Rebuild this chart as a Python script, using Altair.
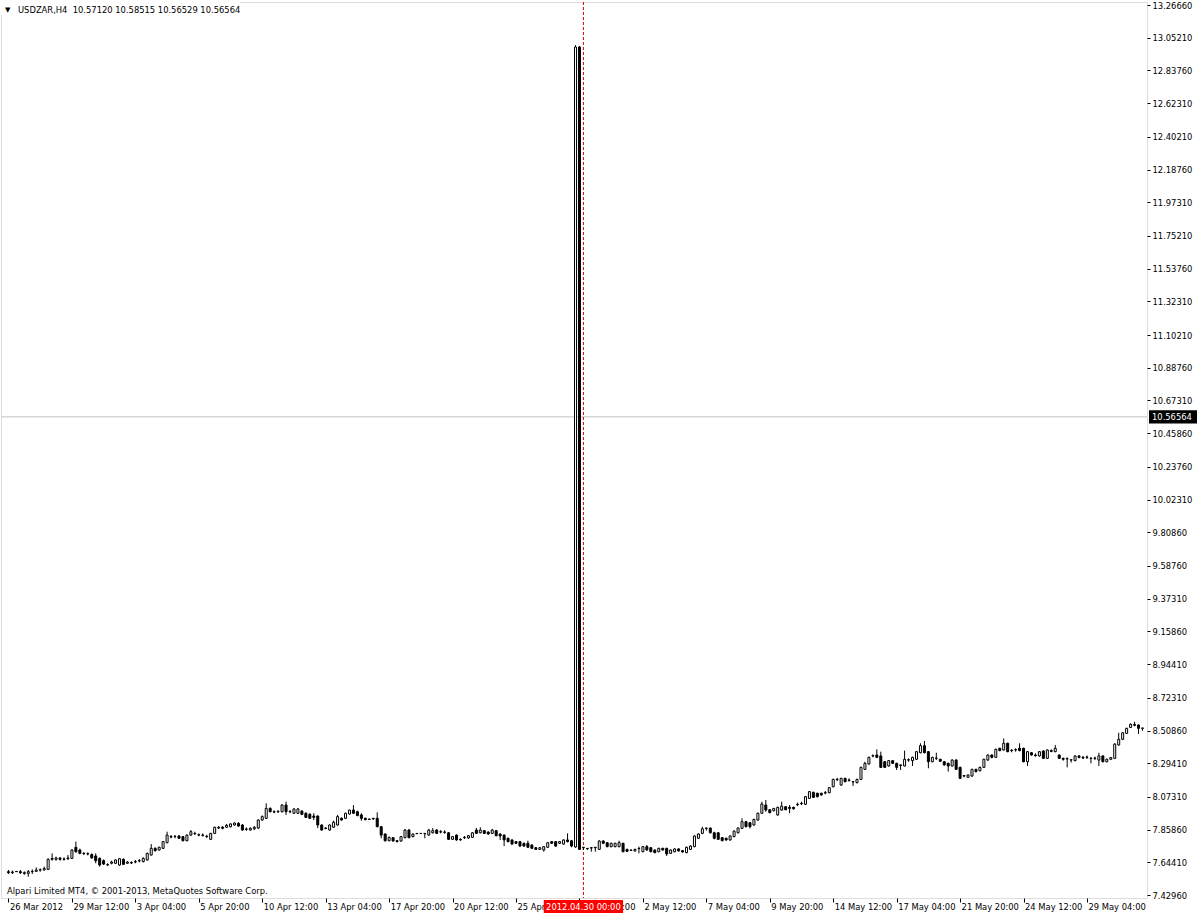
import json
import altair as alt
import pandas as pd

# ---------------- data ----------------
SYMBOL = "USDZAR,H4"
LAST_BAR = ["10.57120", "10.58515", "10.56529", "10.56564"]
BID = 10.56564
CROSS_BAR = 145
CROSS_LABEL = "2012.04.30 00:00"
COPYRIGHT = "Alpari Limited MT4, \u00a9 2001-2013, MetaQuotes Software Corp."

PRICE_TICKS = [13.26660, 13.05210, 12.83760, 12.62310, 12.40210, 12.18760, 11.97310,
               11.75210, 11.53760, 11.32310, 11.10210, 10.88760, 10.67310, 10.45860,
               10.23760, 10.02310, 9.80860, 9.58760, 9.37310, 9.15860, 8.94410,
               8.72310, 8.50860, 8.29410, 8.07310, 7.85860, 7.64410, 7.42960]

TIME_TICKS = [0, 16, 32, 48, 64, 80, 96, 112, 128, 144, 160, 176, 192, 208, 224, 240, 256, 272]
TIME_LABELS = ["26 Mar 2012", "29 Mar 12:00", "3 Apr 04:00", "5 Apr 20:00", "10 Apr 12:00",
               "13 Apr 04:00", "17 Apr 20:00", "20 Apr 12:00", "25 Apr 04:00", "27 Apr 20:00",
               "2 May 12:00", "7 May 04:00", "9 May 20:00", "14 May 12:00", "17 May 04:00",
               "21 May 20:00", "24 May 12:00", "29 May 04:00"]

OPEN = [7.583, 7.576, 7.585, 7.583, 7.576, 7.572, 7.583, 7.585, 7.594, 7.594,
        7.598, 7.670, 7.664, 7.673, 7.664, 7.668, 7.670, 7.743, 7.725, 7.703,
        7.701, 7.695, 7.686, 7.670, 7.655, 7.629, 7.638, 7.638, 7.627, 7.664,
        7.638, 7.642, 7.646, 7.653, 7.649, 7.660, 7.692, 7.736, 7.725, 7.736,
        7.773, 7.813, 7.813, 7.817, 7.813, 7.786, 7.823, 7.834, 7.825, 7.823,
        7.815, 7.795, 7.834, 7.869, 7.874, 7.874, 7.878, 7.889, 7.900, 7.889,
        7.863, 7.856, 7.864, 7.869, 7.922, 7.933, 7.998, 7.976, 7.976, 7.976,
        8.020, 7.976, 7.966, 7.966, 7.980, 7.966, 7.959, 7.948, 7.948, 7.889,
        7.869, 7.856, 7.874, 7.889, 7.933, 7.933, 7.961, 7.987, 7.976, 7.955,
        7.933, 7.928, 7.933, 7.933, 7.878, 7.830, 7.786, 7.806, 7.786, 7.784,
        7.806, 7.856, 7.813, 7.834, 7.834, 7.834, 7.823, 7.838, 7.856, 7.845,
        7.843, 7.838, 7.795, 7.823, 7.795, 7.808, 7.804, 7.808, 7.856, 7.838,
        7.852, 7.843, 7.834, 7.852, 7.830, 7.823, 7.802, 7.791, 7.780, 7.780,
        7.769, 7.769, 7.758, 7.740, 7.729, 7.725, 7.743, 7.780, 7.780, 7.769,
        7.764, 7.791, 7.786, 7.745, 12.991, 7.743, 7.736, 7.740, 7.743, 7.729,
        7.784, 7.773, 7.747, 7.747, 7.747, 7.769, 7.729, 7.725, 7.719, 7.736,
        7.714, 7.747, 7.740, 7.725, 7.714, 7.736, 7.736, 7.703, 7.714, 7.732,
        7.721, 7.708, 7.729, 7.747, 7.802, 7.834, 7.869, 7.869, 7.838, 7.838,
        7.806, 7.802, 7.791, 7.813, 7.838, 7.867, 7.911, 7.904, 7.889, 7.922,
        7.966, 8.020, 7.989, 7.983, 7.955, 7.987, 8.009, 8.005, 8.005, 8.025,
        8.031, 8.025, 8.064, 8.103, 8.097, 8.097, 8.101, 8.101, 8.140, 8.188,
        8.151, 8.195, 8.184, 8.173, 8.167, 8.188, 8.254, 8.289, 8.342, 8.348,
        8.342, 8.304, 8.276, 8.311, 8.293, 8.283, 8.276, 8.315, 8.311, 8.320,
        8.363, 8.409, 8.370, 8.304, 8.326, 8.320, 8.304, 8.293, 8.276, 8.315,
        8.267, 8.213, 8.202, 8.210, 8.254, 8.245, 8.267, 8.315, 8.348, 8.333,
        8.392, 8.381, 8.425, 8.377, 8.381, 8.392, 8.392, 8.304, 8.363, 8.348,
        8.342, 8.374, 8.326, 8.377, 8.370, 8.348, 8.326, 8.322, 8.315, 8.311,
        8.342, 8.333, 8.333, 8.326, 8.326, 8.315, 8.342, 8.304, 8.320, 8.326,
        8.414, 8.451, 8.490, 8.529, 8.549, 8.545, 8.523]

HIGH = [7.594, 7.590, 7.587, 7.594, 7.585, 7.594, 7.598, 7.611, 7.605, 7.616,
        7.670, 7.703, 7.681, 7.677, 7.677, 7.692, 7.729, 7.780, 7.734, 7.712,
        7.710, 7.703, 7.703, 7.677, 7.664, 7.638, 7.655, 7.664, 7.673, 7.670,
        7.653, 7.651, 7.660, 7.666, 7.677, 7.708, 7.764, 7.743, 7.747, 7.784,
        7.845, 7.823, 7.823, 7.823, 7.817, 7.827, 7.856, 7.845, 7.834, 7.834,
        7.825, 7.838, 7.878, 7.882, 7.882, 7.896, 7.900, 7.907, 7.907, 7.896,
        7.873, 7.874, 7.882, 7.926, 7.952, 8.031, 8.005, 7.985, 7.987, 8.025,
        8.042, 7.987, 7.998, 8.000, 7.987, 7.972, 7.966, 7.966, 7.952, 7.893,
        7.874, 7.893, 7.917, 7.955, 7.939, 7.970, 7.989, 8.020, 7.983, 7.966,
        7.937, 7.930, 7.935, 7.972, 7.882, 7.834, 7.813, 7.810, 7.791, 7.817,
        7.863, 7.863, 7.834, 7.836, 7.836, 7.836, 7.863, 7.869, 7.863, 7.856,
        7.854, 7.843, 7.817, 7.827, 7.802, 7.817, 7.823, 7.843, 7.869, 7.874,
        7.856, 7.847, 7.863, 7.856, 7.834, 7.827, 7.806, 7.795, 7.784, 7.784,
        7.773, 7.786, 7.762, 7.745, 7.745, 7.751, 7.777, 7.784, 7.784, 7.784,
        7.795, 7.834, 7.791, 13.004, 12.998, 7.745, 7.738, 7.743, 7.745, 7.789,
        7.789, 7.777, 7.773, 7.773, 7.786, 7.773, 7.734, 7.727, 7.734, 7.747,
        7.751, 7.758, 7.745, 7.729, 7.740, 7.740, 7.740, 7.729, 7.736, 7.736,
        7.725, 7.747, 7.756, 7.821, 7.834, 7.878, 7.871, 7.873, 7.845, 7.843,
        7.810, 7.806, 7.821, 7.854, 7.873, 7.933, 7.916, 7.909, 7.930, 7.970,
        8.042, 8.053, 7.994, 8.000, 8.009, 8.042, 8.013, 8.020, 8.009, 8.036,
        8.042, 8.079, 8.112, 8.108, 8.101, 8.101, 8.112, 8.138, 8.193, 8.199,
        8.199, 8.199, 8.195, 8.175, 8.193, 8.272, 8.304, 8.337, 8.352, 8.385,
        8.370, 8.309, 8.315, 8.315, 8.298, 8.285, 8.377, 8.326, 8.337, 8.374,
        8.425, 8.440, 8.374, 8.337, 8.363, 8.324, 8.309, 8.298, 8.320, 8.320,
        8.272, 8.217, 8.221, 8.258, 8.258, 8.272, 8.324, 8.352, 8.352, 8.390,
        8.396, 8.457, 8.429, 8.387, 8.392, 8.425, 8.396, 8.374, 8.368, 8.359,
        8.374, 8.379, 8.385, 8.385, 8.414, 8.352, 8.331, 8.333, 8.320, 8.346,
        8.346, 8.342, 8.344, 8.331, 8.337, 8.363, 8.346, 8.324, 8.335, 8.425,
        8.494, 8.499, 8.527, 8.556, 8.566, 8.549, 8.527]

LOW = [7.568, 7.568, 7.581, 7.568, 7.563, 7.550, 7.568, 7.581, 7.583, 7.590,
       7.594, 7.655, 7.655, 7.655, 7.655, 7.660, 7.666, 7.708, 7.697, 7.692,
       7.690, 7.668, 7.638, 7.616, 7.627, 7.620, 7.631, 7.633, 7.622, 7.627,
       7.633, 7.633, 7.638, 7.644, 7.644, 7.655, 7.688, 7.714, 7.721, 7.732,
       7.769, 7.802, 7.802, 7.797, 7.782, 7.782, 7.819, 7.823, 7.815, 7.813,
       7.804, 7.791, 7.830, 7.863, 7.861, 7.871, 7.873, 7.885, 7.878, 7.852,
       7.851, 7.852, 7.856, 7.863, 7.917, 7.928, 7.972, 7.966, 7.968, 7.972,
       7.955, 7.966, 7.961, 7.961, 7.955, 7.935, 7.928, 7.922, 7.869, 7.852,
       7.861, 7.852, 7.871, 7.885, 7.917, 7.928, 7.957, 7.961, 7.946, 7.917,
       7.920, 7.924, 7.922, 7.874, 7.802, 7.780, 7.782, 7.780, 7.775, 7.780,
       7.802, 7.802, 7.808, 7.830, 7.830, 7.802, 7.819, 7.834, 7.830, 7.834,
       7.832, 7.791, 7.791, 7.786, 7.786, 7.797, 7.799, 7.804, 7.830, 7.834,
       7.830, 7.825, 7.830, 7.815, 7.791, 7.751, 7.775, 7.760, 7.764, 7.747,
       7.747, 7.738, 7.732, 7.725, 7.725, 7.714, 7.738, 7.764, 7.747, 7.764,
       7.760, 7.775, 7.743, 7.740, 7.725, 7.725, 7.725, 7.714, 7.714, 7.725,
       7.764, 7.743, 7.743, 7.743, 7.743, 7.710, 7.712, 7.721, 7.714, 7.703,
       7.710, 7.721, 7.710, 7.703, 7.710, 7.721, 7.686, 7.699, 7.710, 7.714,
       7.708, 7.703, 7.725, 7.743, 7.797, 7.830, 7.852, 7.834, 7.795, 7.791,
       7.782, 7.786, 7.786, 7.808, 7.834, 7.863, 7.874, 7.867, 7.885, 7.917,
       7.961, 7.976, 7.966, 7.978, 7.950, 7.983, 7.987, 7.966, 7.989, 8.013,
       8.020, 8.020, 8.060, 8.066, 8.070, 8.081, 8.090, 8.097, 8.136, 8.178,
       8.147, 8.169, 8.173, 8.145, 8.162, 8.184, 8.250, 8.285, 8.333, 8.328,
       8.263, 8.263, 8.272, 8.289, 8.250, 8.250, 8.272, 8.304, 8.276, 8.315,
       8.359, 8.359, 8.261, 8.300, 8.315, 8.302, 8.278, 8.239, 8.272, 8.250,
       8.191, 8.202, 8.197, 8.206, 8.234, 8.241, 8.263, 8.311, 8.326, 8.328,
       8.372, 8.377, 8.366, 8.366, 8.370, 8.372, 8.300, 8.276, 8.344, 8.337,
       8.337, 8.322, 8.322, 8.366, 8.366, 8.322, 8.311, 8.267, 8.298, 8.307,
       8.326, 8.322, 8.322, 8.293, 8.315, 8.276, 8.300, 8.300, 8.315, 8.322,
       8.409, 8.446, 8.486, 8.525, 8.536, 8.486, 8.507]

CLOSE = [7.576, 7.581, 7.583, 7.576, 7.572, 7.583, 7.585, 7.594, 7.595, 7.603,
         7.664, 7.664, 7.673, 7.664, 7.666, 7.673, 7.725, 7.714, 7.703, 7.701,
         7.699, 7.673, 7.655, 7.627, 7.633, 7.627, 7.646, 7.660, 7.668, 7.631,
         7.646, 7.640, 7.649, 7.655, 7.670, 7.703, 7.736, 7.721, 7.743, 7.780,
         7.823, 7.810, 7.815, 7.802, 7.786, 7.823, 7.845, 7.832, 7.823, 7.821,
         7.813, 7.834, 7.874, 7.874, 7.867, 7.887, 7.896, 7.902, 7.882, 7.856,
         7.861, 7.867, 7.874, 7.922, 7.944, 7.998, 7.976, 7.974, 7.978, 8.020,
         7.976, 7.978, 7.994, 7.994, 7.959, 7.939, 7.933, 7.939, 7.889, 7.856,
         7.867, 7.889, 7.907, 7.944, 7.922, 7.966, 7.987, 7.966, 7.951, 7.933,
         7.924, 7.926, 7.930, 7.878, 7.823, 7.786, 7.808, 7.784, 7.780, 7.813,
         7.856, 7.806, 7.830, 7.832, 7.833, 7.832, 7.856, 7.852, 7.834, 7.843,
         7.841, 7.795, 7.813, 7.791, 7.791, 7.806, 7.819, 7.838, 7.834, 7.856,
         7.834, 7.830, 7.856, 7.819, 7.817, 7.791, 7.780, 7.764, 7.769, 7.751,
         7.751, 7.743, 7.736, 7.729, 7.740, 7.747, 7.773, 7.769, 7.751, 7.780,
         7.791, 7.780, 7.751, 12.991, 7.729, 7.740, 7.734, 7.738, 7.740, 7.784,
         7.769, 7.747, 7.769, 7.769, 7.773, 7.714, 7.716, 7.723, 7.729, 7.734,
         7.747, 7.725, 7.714, 7.708, 7.736, 7.725, 7.699, 7.725, 7.732, 7.719,
         7.712, 7.743, 7.751, 7.817, 7.830, 7.864, 7.867, 7.838, 7.802, 7.795,
         7.786, 7.791, 7.817, 7.849, 7.869, 7.911, 7.878, 7.878, 7.926, 7.966,
         8.027, 7.987, 7.970, 7.998, 8.005, 8.013, 7.989, 7.998, 7.996, 8.022,
         8.029, 8.075, 8.108, 8.070, 8.075, 8.086, 8.099, 8.134, 8.188, 8.186,
         8.195, 8.173, 8.182, 8.171, 8.188, 8.267, 8.293, 8.333, 8.344, 8.333,
         8.267, 8.267, 8.311, 8.293, 8.267, 8.280, 8.320, 8.317, 8.333, 8.370,
         8.409, 8.363, 8.304, 8.333, 8.328, 8.307, 8.283, 8.276, 8.315, 8.254,
         8.195, 8.210, 8.217, 8.254, 8.239, 8.267, 8.320, 8.348, 8.333, 8.385,
         8.377, 8.425, 8.370, 8.379, 8.383, 8.377, 8.304, 8.370, 8.348, 8.344,
         8.370, 8.326, 8.381, 8.372, 8.392, 8.326, 8.320, 8.324, 8.317, 8.342,
         8.333, 8.328, 8.335, 8.328, 8.328, 8.342, 8.304, 8.320, 8.331, 8.420,
         8.451, 8.494, 8.523, 8.549, 8.543, 8.523, 8.525]

# ---------------- chart ----------------
FONT = "DejaVu Sans Condensed, Liberation Sans, sans-serif"
FS = 9.3

df = pd.DataFrame({"i": list(range(len(OPEN))), "open": OPEN, "high": HIGH,
                   "low": LOW, "close": CLOSE})

xs = alt.Scale(domain=[-0.625, 285.875], nice=False, zero=False)
ys = alt.Scale(domain=[7.4103, 13.2863], nice=False, zero=False)

label_expr = "%s[indexof(%s, datum.value)]" % (json.dumps(TIME_LABELS), json.dumps(TIME_TICKS))
xaxis = alt.Axis(values=TIME_TICKS, labelExpr=label_expr, title=None, grid=False,
                 labelAlign="left", labelBaseline="top", labelOffset=1, labelPadding=0,
                 tickSize=4, tickColor="black", domainColor="black", labelColor="black",
                 labelFont=FONT, labelFontSize=FS, labelFlush=False, labelOverlap=False,
                 labelBound=False, zindex=0, domain=False)
yaxis = alt.Axis(values=PRICE_TICKS, format=".5f", orient="right", title=None, grid=False,
                 tickSize=3, labelPadding=2, tickColor="black", domainColor="black",
                 labelColor="black", labelFont=FONT, labelFontSize=FS, labelFlush=False,
                 labelOverlap=False, labelBound=False, zindex=0, domain=False)

X = alt.X("i:Q", scale=xs, axis=xaxis)

bid_df = pd.DataFrame({"p": [BID]})
bid_line = alt.Chart(bid_df).mark_rule(color="#c0c0c0", strokeWidth=1).encode(
    y=alt.Y("p:Q", scale=ys, axis=yaxis))

cross_df = pd.DataFrame({"i": [CROSS_BAR]})
cross_line = alt.Chart(cross_df).mark_rule(color="#d40000", strokeWidth=1,
                                           strokeDash=[3, 2]).encode(x=X)

wicks = alt.Chart(df).mark_rule(color="black", strokeWidth=1).encode(
    x=X, y=alt.Y("low:Q", scale=ys, axis=yaxis), y2="high:Q")

bodies = alt.Chart(df).mark_bar(size=2, stroke="black", strokeWidth=1).encode(
    x=X, y=alt.Y("open:Q", scale=ys, axis=yaxis), y2="close:Q",
    fill=alt.condition("datum.close >= datum.open", alt.value("white"), alt.value("black")))

one = pd.DataFrame({"k": [0]})
title_box = alt.Chart(one).mark_rect(color="white").encode(
    x=alt.value(-1), x2=alt.value(239), y=alt.value(-2), y2=alt.value(13))
tri = alt.Chart(one).mark_text(text="\u25bc", font="DejaVu Sans", fontSize=7,
                               align="left", baseline="middle", color="black").encode(
    x=alt.value(4), y=alt.value(8))
title = alt.Chart(one).mark_text(
    text=SYMBOL + "\u00a0\u00a0" + " ".join(LAST_BAR), font=FONT, fontSize=FS,
    align="left", baseline="middle", color="black").encode(x=alt.value(17), y=alt.value(8))
copyright_t = alt.Chart(one).mark_text(text=COPYRIGHT, font=FONT, fontSize=FS,
                                       align="left", baseline="middle", color="black").encode(
    x=alt.value(6), y=alt.value(889))

box_df = pd.DataFrame({"a": [CROSS_BAR - 10], "b": [CROSS_BAR + 10], "i": [CROSS_BAR]})
cross_box = alt.Chart(box_df).mark_rect(color="#ff0000").encode(
    x=alt.X("a:Q", scale=xs, axis=xaxis), x2="b:Q", y=alt.value(898), y2=alt.value(911))
cross_text = alt.Chart(box_df).mark_text(text=CROSS_LABEL, font=FONT, fontSize=FS,
                                         align="center", baseline="middle", color="white").encode(
    x=alt.X("i:Q", scale=xs, axis=xaxis), y=alt.value(905))

bid_box_df = pd.DataFrame({"hi": [BID + 0.043], "lo": [BID - 0.043], "p": [BID]})
bid_box = alt.Chart(bid_box_df).mark_rect(color="black").encode(
    x=alt.value(1148), x2=alt.value(1197), y=alt.Y("hi:Q", scale=ys, axis=yaxis), y2="lo:Q")
bid_text = alt.Chart(bid_box_df).mark_text(text="%.5f" % BID, font=FONT, fontSize=FS,
                                           align="left", baseline="middle", color="white").encode(
    x=alt.value(1151), y=alt.Y("p:Q", scale=ys, axis=yaxis))

chart = alt.layer(
    bid_line, cross_line, wicks, bodies, title_box, tri, title, copyright_t,
    cross_box, cross_text, bid_box, bid_text
).properties(
    width=1146, height=896,
    padding={"left": 1, "top": 2, "right": 50, "bottom": 19},
    autosize=alt.AutoSizeParams(type="none"),
).configure_view(stroke="black", strokeWidth=1).configure(background="white")

chart.save("out.html", embed_options={"renderer": "svg", "actions": False})
